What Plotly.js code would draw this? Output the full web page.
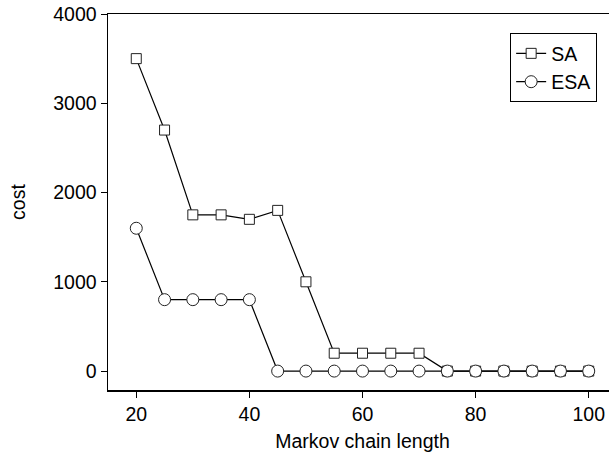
<!DOCTYPE html>
<html><head><meta charset="utf-8">
<script src="https://cdn.plot.ly/plotly-3.0.1.min.js"></script>
<style>html,body{margin:0;padding:0;overflow:hidden;background:#fff}</style>
</head><body><div id="chart"></div>
<script>
const chainLength = [20,25,30,35,40,45,50,55,60,65,70,75,80,85,90,95,100];
const costSA  = [3500,2700,1750,1750,1700,1800,1000,200,200,200,200,0,0,0,0,0,0];
const costESA = [1600,800,800,800,800,0,0,0,0,0,0,0,0,0,0,0,0];
const xTicks = [20,40,60,80,100];
const yTicks = [0,1000,2000,3000,4000];

const font = {family:'Liberation Sans, Arial, sans-serif', size:19.5, color:'#000'};
const traces = [
  {x:chainLength, y:costSA, name:'SA', mode:'lines+markers', type:'scatter',
   line:{color:'#000', width:1.2},
   marker:{symbol:'square', size:10, color:'#fff', line:{color:'#222', width:1}}},
  {x:chainLength, y:costESA, name:'ESA', mode:'lines+markers', type:'scatter',
   line:{color:'#000', width:1.2},
   marker:{symbol:'circle', size:12, color:'#fff', line:{color:'#222', width:1}}}
];
const layout = {
  width:640, height:463,
  margin:{l:108, r:23, t:14, b:73},
  paper_bgcolor:'#fff', plot_bgcolor:'#fff',
  font:font,
  showlegend:true,
  legend:{x:0.961, y:0.949, xanchor:'right', yanchor:'top', bordercolor:'#000', borderwidth:1,
          bgcolor:'#fff', font:{family:font.family, size:19.5, color:'#000'}, tracegroupgap:0},
  xaxis:{range:[15,105], tickvals:xTicks, ticks:'outside', ticklen:6, tickcolor:'#000',
         showline:true, linecolor:'#000', linewidth:1.5, mirror:true, showgrid:false, zeroline:false,
         title:{text:'Markov chain length', font:font, standoff:10}},
  yaxis:{range:[-212,4000], tickvals:yTicks, ticks:'outside', ticklen:6, tickcolor:'#000',
         showline:true, linecolor:'#000', linewidth:1.5, mirror:true, showgrid:false, zeroline:false,
         title:{text:'cost', font:font, standoff:22}}
};
Plotly.newPlot('chart', traces, layout, {displayModeBar:false, staticPlot:true});
</script></body></html>
